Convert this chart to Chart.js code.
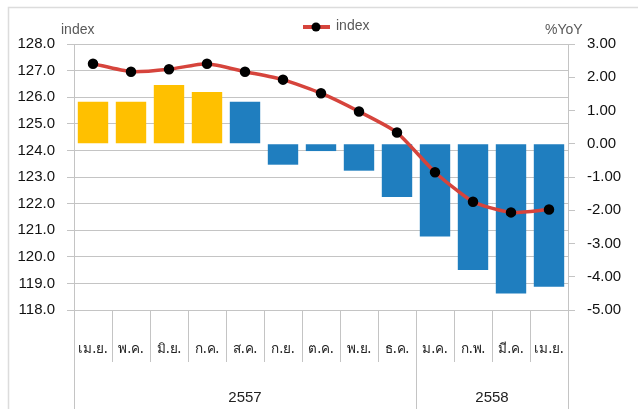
<!DOCTYPE html>
<html>
<head>
<meta charset="utf-8">
<script src="https://cdn.jsdelivr.net/npm/chart.js@4.4.0/dist/chart.umd.min.js"></script>
<style>
  html, body { margin: 0; padding: 0; background: #fff; }
  #wrap { width: 639px; height: 409px; }
</style>
</head>
<body>
<div id="wrap"><canvas id="chart" width="639" height="409"></canvas></div>
<script>
const months = ["เม.ย.", "พ.ค.", "มิ.ย.", "ก.ค.", "ส.ค.", "ก.ย.", "ต.ค.", "พ.ย.", "ธ.ค.", "ม.ค.", "ก.พ.", "มี.ค.", "เม.ย."];
const yearLabels = ["2557", "2558"];
const yearSpans = [9, 4]; // số tháng trong mỗi năm
const indexValues = [127.26, 126.96, 127.05, 127.26, 126.96, 126.66, 126.15, 125.46, 124.67, 123.18, 122.07, 121.67, 121.78];
const yoyValues = [1.26, 1.26, 1.77, 1.56, 1.26, -0.63, -0.22, -0.81, -1.60, -2.79, -3.80, -4.50, -4.30];

const gridColor = "#c4c4c4";
const axisFont = "Liberation Sans, Arial, sans-serif";
const thaiFont = "'Noto Sans', 'DejaVu Sans', sans-serif";

// vẽ trục x hai tầng, tiêu đề trục, chú thích
const extras = {
  id: "extras",
  afterDraw(chart) {
    const c = chart.ctx;
    const x = chart.scales.x;
    const area = chart.chartArea;
    const step = x.getPixelForValue(1) - x.getPixelForValue(0);
    c.save();

    // khung ngoài
    c.strokeStyle = "#dcdcdc";
    c.lineWidth = 1.5;
    c.beginPath();
    c.moveTo(8.5, 420);
    c.lineTo(8.5, 7.5);
    c.lineTo(638, 7.5);
    c.stroke();

    // vạch ngăn tháng
    c.strokeStyle = gridColor;
    c.lineWidth = 1;
    for (let i = 1; i < months.length; i++) {
      const px = Math.round(x.getPixelForValue(i) - step / 2) + 0.5;
      c.beginPath();
      c.moveTo(px, area.bottom);
      c.lineTo(px, 362);
      c.stroke();
    }
    // vạch ngăn năm + trục kéo dài
    let acc = 0;
    const yearEdges = [0];
    yearSpans.forEach(n => { acc += n; yearEdges.push(acc); });
    yearEdges.forEach(k => {
      const px = Math.round(x.getPixelForValue(k) - step / 2) + 0.5;
      c.beginPath();
      c.moveTo(px, area.bottom);
      c.lineTo(px, 409);
      c.stroke();
    });

    // nhãn tháng
    c.fillStyle = "#222";
    c.font = "13.5px " + thaiFont;
    c.textAlign = "center";
    c.textBaseline = "middle";
    months.forEach((m, i) => {
      c.fillText(m, x.getPixelForValue(i), 349);
    });
    // nhãn năm
    c.font = "15px " + axisFont;
    yearLabels.forEach((y, i) => {
      const a = x.getPixelForValue(yearEdges[i]) - step / 2;
      const b = x.getPixelForValue(yearEdges[i + 1]) - step / 2;
      c.fillText(y, (a + b) / 2, 398);
    });

    // tiêu đề trục
    c.fillStyle = "#595959";
    c.font = "14px " + axisFont;
    c.textAlign = "left";
    c.fillText("index", 61, 30);
    c.fillText("%YoY", 545, 30);

    // chú thích
    c.strokeStyle = "#d6443c";
    c.lineWidth = 4;
    c.beginPath();
    c.moveTo(303, 27);
    c.lineTo(330, 27);
    c.stroke();
    c.fillStyle = "#000";
    c.beginPath();
    c.arc(316, 27, 4.5, 0, Math.PI * 2);
    c.fill();
    c.fillStyle = "#595959";
    c.font = "14px " + axisFont;
    c.fillText("index", 336, 26);
    c.restore();
  }
};

new Chart(document.getElementById("chart"), {
  data: {
    labels: months,
    datasets: [
      {
        type: "line",
        label: "index",
        data: indexValues,
        yAxisID: "y",
        borderColor: "#d6443c",
        borderWidth: 3.5,
        pointBackgroundColor: "#000",
        pointBorderColor: "#000",
        pointRadius: 3.5,
        tension: 0.2,
        order: 0
      },
      {
        type: "bar",
        label: "%YoY",
        data: yoyValues,
        yAxisID: "y1",
        backgroundColor: ctx => ctx.dataIndex < 4 ? "#ffc000" : "#1f7ebf",
        categoryPercentage: 1,
        barPercentage: 0.8,
        order: 1
      }
    ]
  },
  options: {
    responsive: false,
    animation: false,
    devicePixelRatio: 1,
    layout: { padding: { top: 44, bottom: 99 } },
    plugins: { legend: { display: false }, tooltip: { enabled: false } },
    scales: {
      x: { display: false },
      y: {
        position: "left",
        min: 118,
        max: 128,
        ticks: {
          stepSize: 1,
          padding: 12,
          color: "#111",
          font: { family: axisFont, size: 15 },
          callback: v => v.toFixed(1)
        },
        grid: { color: gridColor, tickLength: 7 },
        border: { color: gridColor },
        afterFit: s => { s.width = 74; }
      },
      y1: {
        position: "right",
        min: -5,
        max: 3,
        ticks: {
          stepSize: 1,
          padding: 12,
          color: "#111",
          font: { family: axisFont, size: 15 },
          callback: v => v.toFixed(2)
        },
        grid: { drawOnChartArea: false, color: gridColor, tickLength: 7 },
        border: { color: gridColor },
        afterFit: s => { s.width = 71; }
      }
    }
  },
  plugins: [extras]
});
</script>
</body>
</html>
